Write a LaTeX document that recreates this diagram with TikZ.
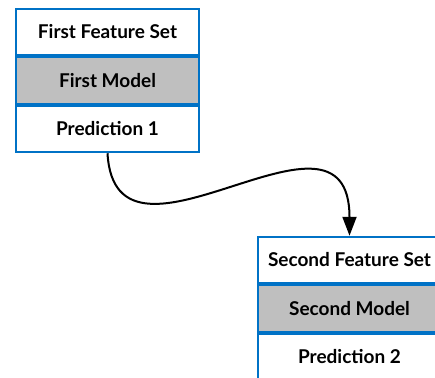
\documentclass[tikz,border=0pt]{standalone}
\usepackage{fontspec}
\setmainfont{Lato}
\usetikzlibrary{positioning,arrows.meta}
\definecolor{boxblue}{RGB}{0,114,198}
\definecolor{modelgray}{RGB}{191,191,191}
\begin{document}
\begin{tikzpicture}[x=1pt, y=-1pt,
  row/.style={draw=boxblue, line width=2pt, minimum width=183pt, minimum height=46.5pt,
    inner sep=0pt, font=\fontsize{19}{21}\selectfont\bfseries},
  model/.style={row, fill=modelgray}]
\useasboundingbox (0,0) rectangle (435,377);
\clip (0,0) rectangle (435,377);
% first model
\node[row] (feat1) at (107.5,32) {First Feature Set};
\node[model, below=0pt of feat1] (model1) {First Model};
\node[row, below=0pt of model1] (pred1) {Prediction 1};
% second model
\node[row] (feat2) at (349.5,260) {Second Feature Set};
\node[model, below=0pt of feat2] (model2) {Second Model};
\node[row, below=0pt of model2] (pred2) {Prediction 2};
% prediction feeds the next feature set
\draw[line width=2pt, -{Triangle[length=19pt,width=14pt]}] (pred1.south)
  .. controls +(8,142) and +(0,-157) .. (feat2.north);
\end{tikzpicture}
\end{document}
